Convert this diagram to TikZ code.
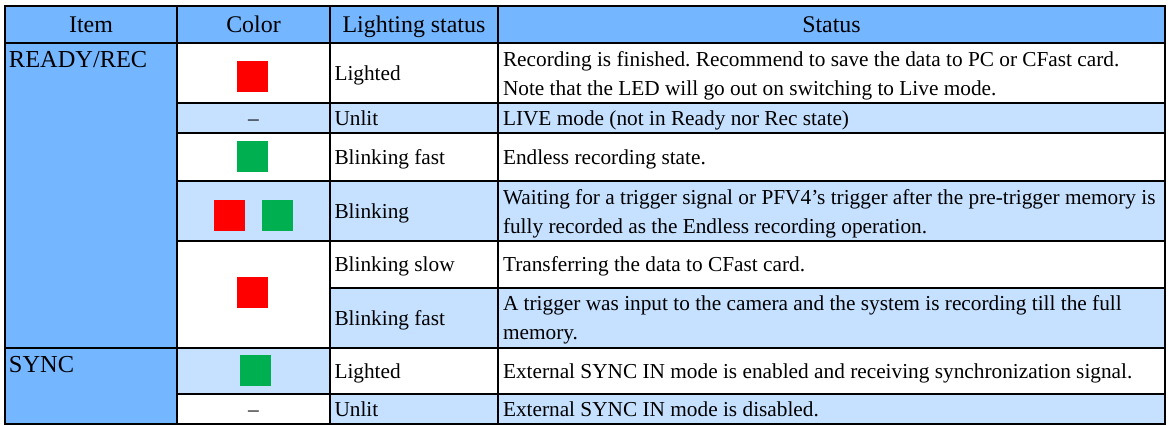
\documentclass[tikz,border=0pt]{standalone}
\usepackage{fontspec}
\setmainfont{Liberation Serif}
\usepackage{tikz}
\definecolor{headblue}{RGB}{116,182,255}
\definecolor{rowblue}{RGB}{197,225,255}
\definecolor{ledred}{RGB}{255,0,0}
\definecolor{ledgreen}{RGB}{0,176,80}
\frenchspacing

\begin{document}
\begin{tikzpicture}[x=0.5pt,y=-0.5pt,line width=1pt,
	head node/.style={font=\fontsize{11.95}{14}\selectfont, inner sep=0pt, anchor=base},
	item node/.style={font=\fontsize{12.2}{14}\selectfont, inner sep=0pt, anchor=base west},
	text node/.style={font=\fontsize{10.65}{14}\selectfont, inner sep=0pt, anchor=base west},
	red led/.style={fill=ledred, minimum size=15.5pt, inner sep=0pt},
	green led/.style={fill=ledgreen, minimum size=15.5pt, inner sep=0pt}]
			\useasboundingbox (0,0) rectangle (1169,425);
			
			% Fills
			\fill[headblue] (5,6) rectangle (1165,43);
			\fill[headblue] (5,43) rectangle (177,424);
			\fill[rowblue] (177,103) rectangle (1165,133);
			\fill[rowblue] (177,181) rectangle (1165,241);
			\fill[rowblue] (330,288) rectangle (1165,348);
			\fill[rowblue] (177,348) rectangle (330,394);
			\fill[rowblue] (330,394) rectangle (1165,424);
			
			% Grid
			\draw (5,6) rectangle (1165,424);
			\draw (5,43) -- (1165,43);
			\draw (5,348) -- (1165,348);
			\draw (177,103) -- (1165,103);
			\draw (177,133) -- (1165,133);
			\draw (177,181) -- (1165,181);
			\draw (177,241) -- (1165,241);
			\draw (330,288) -- (1165,288);
			\draw (177,394) -- (1165,394);
			\draw (177,6) -- (177,424);
			\draw (330,6) -- (330,424);
			\draw (498,6) -- (498,424);
			
			% Header
			\node[head node] (h1) at (91,32) {Item};
			\node[head node] (h2) at (253.5,32) {Color};
			\node[head node] (h3) at (414,32) {Lighting status};
			\node[head node] (h4) at (831.5,32) {Status};
			
			% Items
			\node[item node] (i1) at (8,67) {READY/REC};
			\node[item node] (i2) at (8,372) {SYNC};
			
			% LEDs
			\node[red led] (c1) at (252.5,76) {};
			\node[text node, anchor=base] (c2) at (253.5,125) {–};
			\node[green led] (c3) at (252.5,156.5) {};
			\node[red led] (c4) at (229.5,215.5) {};
			\node[green led] (c5) [right of=c4, node distance=24pt] {};
			\node[red led] (c6) at (252.5,292.5) {};
			\node[green led] (c7) at (255.5,370.5) {};
			\node[text node, anchor=base] (c8) at (253.5,416) {–};
			
			% Lighting status
			\node[text node] (l1) at (333.5,80) {Lighted};
			\node[text node] (l2) at (333.5,125) {Unlit};
			\node[text node] (l3) at (333.5,164) {Blinking fast};
			\node[text node] (l4) at (333.5,218) {Blinking};
			\node[text node] (l5) at (333.5,271.5) {Blinking slow};
			\node[text node] (l6) at (333.5,325) {Blinking fast};
			\node[text node] (l7) at (333.5,378) {Lighted};
			\node[text node] (l8) at (333.5,416) {Unlit};
			
			% Status
			\node[text node] (s1) at (502,66) {Recording is finished. Recommend to save the data to PC or CFast card.};
			\node[text node] (s1b) at (502,95) {Note that the LED will go out on switching to Live mode.};
			\node[text node] (s2) at (502,125) {LIVE mode (not in Ready nor Rec state)};
			\node[text node] (s3) at (502,164) {Endless recording state.};
			\node[text node] (s4) at (502,204) {Waiting for a trigger signal or PFV4’s trigger after the pre-trigger memory is};
			\node[text node] (s4b) at (502,233) {fully recorded as the Endless recording operation.};
			\node[text node] (s5) at (502,271.5) {Transferring the data to CFast card.};
			\node[text node] (s6) at (502,310.5) {A trigger was input to the camera and the system is recording till the full};
			\node[text node] (s6b) at (502,339.5) {memory.};
			\node[text node] (s7) at (502,378) {External SYNC IN mode is enabled and receiving synchronization signal.};
			\node[text node] (s8) at (502,416) {External SYNC IN mode is disabled.};
			
		\end{tikzpicture}
\end{document}
